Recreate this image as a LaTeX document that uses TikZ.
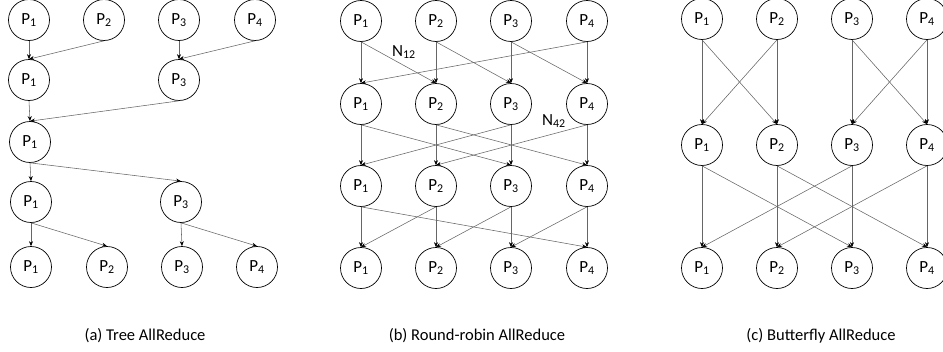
\documentclass[tikz,border=0pt]{standalone}
\usepackage{fontspec}
\setmainfont{Carlito}
\usetikzlibrary{arrows.meta}
\begin{document}
\begin{tikzpicture}[x=1pt,y=-1pt,
  proc/.style={circle,draw=black,line width=0.7pt,minimum size=41pt,inner sep=0pt,font=\fontsize{17}{19}\selectfont},
  link/.style={draw=black!60,line width=0.55pt,-{Stealth[length=5pt,width=4pt,black]}},
  captext/.style={font=\fontsize{16.5}{19}\selectfont},
  lbl/.style={font=\fontsize{17}{19}\selectfont}]
\useasboundingbox (0,0) rectangle (943,351);
\newcommand{\pp}[1]{P\textsubscript{#1}}
% ---------- (a) Tree ----------
\node[proc] (a11) at (29,20) {\pp1};
\node[proc] (a12) at (104,20) {\pp2};
\node[proc] (a13) at (179,20) {\pp3};
\node[proc] (a14) at (255,20) {\pp4};
\node[proc] (a21) at (29,80) {\pp1};
\node[proc] (a23) at (179,80) {\pp3};
\node[proc] (a31) at (30,142) {\pp1};
\node[proc] (a41) at (31,202) {\pp1};
\node[proc] (a43) at (181,202) {\pp3};
\node[proc] (a51) at (31,267) {\pp1};
\node[proc] (a52) at (107,267) {\pp2};
\node[proc] (a53) at (182,267) {\pp3};
\node[proc] (a54) at (257,267) {\pp4};
\draw[link] (a11.south) -- (a21.north);
\draw[link] (a12.south) -- (a21.north);
\draw[link] (a13.south) -- (a23.north);
\draw[link] (a14.south) -- (a23.north);
\draw[link] (a21.south) -- (a31.north);
\draw[link] (a23.south) -- (a31.north);
\draw[link] (a31.south) -- (a41.north);
\draw[link] (a31.south) -- (a43.north);
\draw[link] (a41.south) -- (a51.north);
\draw[link] (a41.south) -- (a52.north);
\draw[link] (a43.south) -- (a53.north);
\draw[link] (a43.south) -- (a54.north);
\node[captext] (capa) at (145,336) {(a) Tree AllReduce};
% ---------- (b) Round-robin ----------
\foreach \r/\y in {1/21,2/104,3/186,4/268}{
  \foreach \c/\x in {1/361,2/436,3/511,4/587}{
    \node[proc] (b\r\c) at (\x,\y) {\pp{\c}};
  }
}
\foreach \r/\s in {1/2,2/3,3/4}{
  \foreach \c in {1,2,3,4}{
    \draw[link] (b\r\c.south) -- (b\s\c.north);
  }
}
% row1 -> row2 : shift by +1
\draw[link] (b11.south) -- (b22.north);
\draw[link] (b12.south) -- (b23.north);
\draw[link] (b13.south) -- (b24.north);
\draw[link] (b14.south) -- (b21.north);
% row2 -> row3 : shift by +2
\draw[link] (b21.south) -- (b33.north);
\draw[link] (b22.south) -- (b34.north);
\draw[link] (b23.south) -- (b31.north);
\draw[link] (b24.south) -- (b32.north);
% row3 -> row4 : shift by +3
\draw[link] (b31.south) -- (b44.north);
\draw[link] (b32.south) -- (b41.north);
\draw[link] (b33.south) -- (b42.north);
\draw[link] (b34.south) -- (b43.north);
\node[lbl] (n12) at (404,52) {N\textsubscript{12}};
\node[lbl] (n42) at (554,121) {N\textsubscript{42}};
\node[captext] (capb) at (477,336) {(b) Round-robin AllReduce};
% ---------- (c) Butterfly ----------
\foreach \r/\y in {1/19,2/145,3/268}{
  \foreach \c/\x in {1/702,2/777,3/852,4/927}{
    \node[proc] (c\r\c) at (\x,\y) {\pp{\c}};
  }
}
\foreach \c in {1,2,3,4}{
  \draw[link] (c1\c.south) -- (c2\c.north);
  \draw[link] (c2\c.south) -- (c3\c.north);
}
\draw[link] (c11.south) -- (c22.north);
\draw[link] (c12.south) -- (c21.north);
\draw[link] (c13.south) -- (c24.north);
\draw[link] (c14.south) -- (c23.north);
\draw[link] (c21.south) -- (c33.north);
\draw[link] (c22.south) -- (c34.north);
\draw[link] (c23.south) -- (c31.north);
\draw[link] (c24.south) -- (c32.north);
\node[captext] (capc) at (821,336) {(c) Butterfly AllReduce};
\end{tikzpicture}
\end{document}
